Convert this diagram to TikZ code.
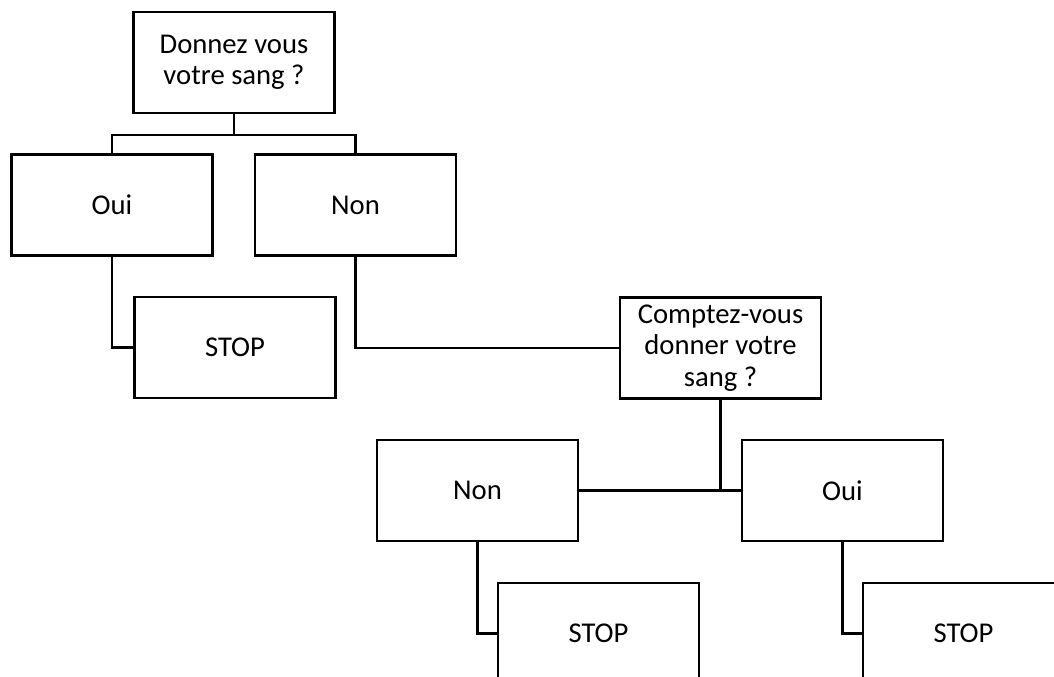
\documentclass[tikz,border=0pt]{standalone}
\usepackage{fontspec}
\setmainfont{Carlito}
\begin{document}
\begin{tikzpicture}[x=0.75pt,y=-0.75pt,
  box/.style={draw=black,line width=1.6pt,fill=white,minimum width=150.75pt,minimum height=75.75pt,
    inner sep=0pt,outer sep=0pt,align=center,font=\fontsize{21.5}{23.6}\selectfont},
  link/.style={draw=black,line width=1.6pt}]
\useasboundingbox (0,0) rectangle (1054,677);
\clip (0,0) rectangle (1054,677);
% nodes
\node[box] (q1) at (234,62.5) {Donnez vous\\votre sang ?};
\node[box] (oui1) at (112,205) {Oui};
\node[box] (non1) at (355.5,205) {Non};
\node[box] (stop1) at (235,347.5) {STOP};
\node[box] (q2) at (720.5,348) {Comptez-vous\\donner votre\\sang ?};
\node[box] (non2) at (477.5,490.5) {Non};
\node[box] (oui2) at (842.5,490.5) {Oui};
\node[box] (stop2) at (598.5,633.5) {STOP};
\node[box] (stop3) at (963.5,633.5) {STOP};
\coordinate (j1) at (234,135);
% connectors
\draw[link] (q1.south) -- (j1);
\draw[link] (oui1.north) |- (j1) -| (non1.north);
\draw[link] (oui1.south) |- (stop1.west);
\draw[link] (non1.south) |- (q2.west);
\draw[link] (q2.south) -- (q2.south |- non2.east);
\draw[link] (non2.east) -- (oui2.west);
\draw[link] (non2.south) |- (stop2.west);
\draw[link] (oui2.south) |- (stop3.west);
\end{tikzpicture}
\end{document}
